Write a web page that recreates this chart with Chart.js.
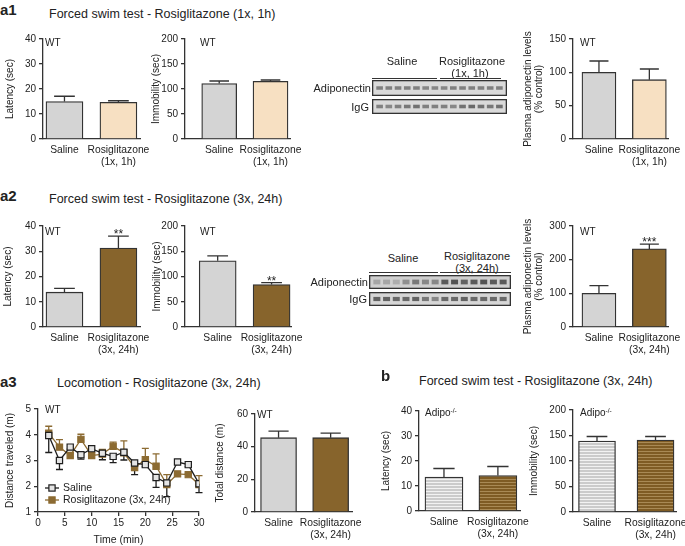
<!DOCTYPE html>
<html><head><meta charset="utf-8">
<script src="https://cdn.jsdelivr.net/npm/chart.js@4.4.0/dist/chart.umd.min.js"></script>
<style>
body{margin:0;background:#fff;}
#root{position:relative;width:685px;height:546px;overflow:hidden;font-family:"Liberation Sans",Arial,sans-serif;color:#222;}
.t{position:absolute;white-space:nowrap;line-height:1;}
canvas{position:absolute;}
.ln{position:absolute;height:0;border-top:1.3px solid #333;}
sup{font-size:0.65em;vertical-align:0.5em;}
</style></head><body><div id="root"></div>
<script>
// ---------------- DATA ----------------
const catsA1 = ['Saline', ['Rosiglitazone', '(1x, 1h)']];
const catsA2 = ['Saline', ['Rosiglitazone', '(3x, 24h)']];

const a1Latency = [15.0, 14.7],   a1LatencyErr = [2.1, 0.6];
const a1Immobility = [111, 115.5], a1ImmobilityErr = [5, 2.5];
const a1Plasma = [100, 89],        a1PlasmaErr = [17, 16];

const a2Latency = [13.8, 31.3],    a2LatencyErr = [1.5, 4.7],   a2LatencyStars = ['', '**'];
const a2Immobility = [131, 84],    a2ImmobilityErr = [10, 4],   a2ImmobilityStars = ['', '**'];
const a2Plasma = [100, 232],       a2PlasmaErr = [23, 14],      a2PlasmaStars = ['', '***'];

const timeMin = [2, 4, 6, 8, 10, 12, 14, 16, 18, 20, 22, 24, 26, 28, 30];
const salineDistance = [3.97, 3.0, 3.52, 3.22, 3.46, 3.28, 3.16, 3.32, 2.9, 2.84, 2.34, 2.13, 2.94, 2.84, 2.1];
const salineDistanceErr = [0.66, 0.35, 0.08, 0.17, 0.08, 0.25, 0.24, 0.3, 0.45, 0.08, 0.38, 0.53, 0.08, 0.08, 0.35];
const rosiDistance = [4.06, 3.52, 3.19, 3.82, 3.19, 3.25, 3.55, 3.3, 2.73, 3.03, 2.78, 2.07, 2.48, 2.45, 2.07];
const rosiDistanceErr = [0.27, 0.29, 0.12, 0.2, 0.05, 0.18, 0.16, 0.46, 0.12, 0.44, 0.48, 0.38, 0.05, 0.05, 0.34];

const a3Total = [45.5, 45.5],      a3TotalErr = [4, 2.8];

const bLatency = [13.6, 14.2],     bLatencyErr = [3.4, 3.6];
const bImmobility = [139, 141],    bImmobilityErr = [9, 7];

// western blot band intensities (0 = faint, 1 = dark), 7 saline + 7 rosiglitazone lanes
const a1AdipoBands = [0.55, 0.55, 0.55, 0.55, 0.55, 0.5, 0.5, 0.5, 0.55, 0.55, 0.55, 0.55, 0.55, 0.55];
const a1IgGBands   = [0.55, 0.5, 0.55, 0.6, 0.65, 0.55, 0.55, 0.55, 0.5, 0.65, 0.7, 0.65, 0.6, 0.65];
const a2AdipoBands = [0.3, 0.3, 0.25, 0.45, 0.6, 0.5, 0.5, 0.8, 0.85, 0.75, 0.8, 0.85, 0.8, 0.8];
const a2IgGBands   = [0.75, 0.75, 0.7, 0.7, 0.75, 0.6, 0.5, 0.7, 0.7, 0.75, 0.7, 0.7, 0.7, 0.7];

// ---------------- STYLE ----------------
const FONT = '"Liberation Sans", Arial, sans-serif';
Chart.defaults.font.family = FONT;
Chart.defaults.color = '#222';
const GRAY = '#d4d4d4', PEACH = '#f7e0c2', BROWN = '#87642c', AX = '#333';

const root = document.getElementById('root');
function T(html, x, y, size, anchor, extra) {
  const d = document.createElement('div'); d.className = 't'; d.innerHTML = html;
  const tx = anchor === 'l' ? '0' : anchor === 'r' ? '-100%' : '-50%';
  d.style.cssText = `left:${x}px;top:${y}px;font-size:${size}px;transform:translate(${tx},-50%);${extra || ''}`;
  root.appendChild(d);
}
function L(x1, x2, y) { const d = document.createElement('div'); d.className = 'ln'; d.style.cssText = `left:${x1}px;width:${x2 - x1}px;top:${y}px;`; root.appendChild(d); }
function mkCanvas(l, t, w, h) {
  const c = document.createElement('canvas'); c.width = w; c.height = h;
  c.style.left = l + 'px'; c.style.top = t + 'px'; c.style.width = w + 'px'; c.style.height = h + 'px';
  root.appendChild(c); return c;
}
function stripes(base, line) {
  const p = document.createElement('canvas'); p.width = 4; p.height = 3;
  const g = p.getContext('2d'); g.fillStyle = base; g.fillRect(0, 0, 4, 3); g.fillStyle = line; g.fillRect(0, 2, 4, 1);
  return g.createPattern(p, 'repeat');
}

const errPlugin = {
  id: 'errbars',
  beforeDatasetsDraw(chart) {
    const ctx = chart.ctx, ys = chart.scales.y;
    chart.data.datasets.forEach((ds, di) => {
      if (!ds.errs) return;
      const meta = chart.getDatasetMeta(di);
      ctx.save(); ctx.strokeStyle = ds.errColor || AX; ctx.lineWidth = 1.3;
      meta.data.forEach((el, i) => {
        const v = ds.data[i].y, s = ds.errSign || 1;
        const y0 = ys.getPixelForValue(v), y1 = ys.getPixelForValue(v + s * ds.errs[i]);
        const hw = ds.capHalf;
        ctx.beginPath(); ctx.moveTo(el.x, y0); ctx.lineTo(el.x, y1);
        ctx.moveTo(el.x - hw, y1); ctx.lineTo(el.x + hw, y1); ctx.stroke();
        if (ds.stars && ds.stars[i]) {
          ctx.fillStyle = '#222'; ctx.font = '12px ' + FONT; ctx.textAlign = 'center'; ctx.textBaseline = 'alphabetic';
          ctx.fillText(ds.stars[i], el.x, y1 + 2);
        }
      });
      ctx.restore();
    });
  }
};

function barChart(o) {
  const padTop = 8, padRight = 45, xH = 34;
  const W = o.right + padRight - o.left, H = o.bottom + xH - (o.top - padTop);
  const cv = mkCanvas(o.left, o.top - padTop, W, H);
  const cats = o.cats;
  return new Chart(cv, {
    type: 'bar',
    data: { datasets: [{
      data: o.vals.map((v, i) => ({ x: i + 1, y: v })),
      backgroundColor: o.fills, borderColor: AX, borderWidth: 1.3, borderSkipped: 'start',
      barThickness: o.barW, errs: o.errs, stars: o.stars, capHalf: o.barW * 0.28
    }] },
    options: {
      responsive: false, animation: false, events: [],
      layout: { padding: { top: padTop, right: padRight, left: 0, bottom: 0 } },
      plugins: { legend: { display: false }, tooltip: { enabled: false } },
      scales: {
        x: {
          type: 'linear', min: o.xMin, max: o.xMax, offset: false, bounds: 'data',
          afterBuildTicks: s => { s.ticks = cats.map((c, i) => ({ value: i + 1 })); },
          afterFit: s => { s.height = xH; },
          grid: { display: false, drawTicks: false, offset: false },
          border: { display: true, color: AX, width: 1.3 },
          ticks: { padding: 5, font: { size: 10.3 }, maxRotation: 0, autoSkip: false, callback: v => cats[Math.round(v) - 1] }
        },
        y: {
          min: 0, max: o.yMax,
          afterFit: s => { s.width = o.axisX - o.left; },
          ticks: { stepSize: o.yStep, padding: 3, font: { size: 10 } },
          grid: { drawOnChartArea: false, drawTicks: true, tickLength: 4, color: AX, lineWidth: 1.3 },
          border: { display: true, color: AX, width: 1.3 },
          title: { display: true, text: o.yTitle, padding: { top: 0, bottom: 0 }, font: { size: 10, lineHeight: 1.15 } }
        }
      }
    },
    plugins: [errPlugin]
  });
}

const blotPlugin = {
  id: 'blotbox',
  beforeDraw(c) { const ctx = c.ctx; ctx.save(); ctx.fillStyle = c.options.plugins.blotbox.bg; ctx.fillRect(0, 0, c.width, c.height); ctx.restore(); },
  afterDraw(c) { const ctx = c.ctx; ctx.save(); ctx.strokeStyle = AX; ctx.lineWidth = 1.3; ctx.strokeRect(0.65, 0.65, c.width - 1.3, c.height - 1.3); ctx.restore(); }
};
function shade(v) { const g = Math.round(210 - 150 * v); return `rgb(${g},${g},${g})`; }
function blot(l, t, w, h, bands, bg, bandH) {
  const cv = mkCanvas(l, t, w, h);
  new Chart(cv, {
    type: 'bar',
    data: { labels: bands.map((_, i) => String(i + 1)),
      datasets: [{ data: bands.map(() => [0.5 - bandH / 2, 0.5 + bandH / 2]), backgroundColor: bands.map(shade),
        barPercentage: 0.72, categoryPercentage: 1, borderWidth: 0 }] },
    options: {
      responsive: false, animation: false, events: [],
      layout: { padding: { left: 3, right: 3, top: 0, bottom: 0 } },
      plugins: { legend: { display: false }, tooltip: { enabled: false }, blotbox: { bg } },
      scales: { x: { display: false }, y: { display: false, min: 0, max: 1 } }
    },
    plugins: [blotPlugin]
  });
}

// ---------------- PANEL a1 ----------------
T('a1', 0, 9, 15, 'l', 'font-weight:bold;');
T('Forced swim test - Rosiglitazone (1x, 1h)', 49, 14, 12.5, 'l');
barChart({ left: 4, axisX: 43, top: 38, bottom: 139, right: 140, xMin: 0.602, xMax: 2.40, barW: 37,
  yMax: 40, yStep: 10, yTitle: 'Latency (sec)', cats: catsA1, vals: a1Latency, errs: a1LatencyErr, fills: [GRAY, PEACH] });
barChart({ left: 150, axisX: 185, top: 38, bottom: 139, right: 290, xMin: 0.333, xMax: 2.38, barW: 35,
  yMax: 200, yStep: 50, yTitle: 'Immobility (sec)', cats: catsA1, vals: a1Immobility, errs: a1ImmobilityErr, fills: [GRAY, PEACH] });
barChart({ left: 522, axisX: 573, top: 38, bottom: 139, right: 668, xMin: 0.485, xMax: 2.37, barW: 34,
  yMax: 150, yStep: 50, yTitle: ['Plasma adiponectin levels', '(% control)'], cats: catsA1, vals: a1Plasma, errs: a1PlasmaErr, fills: [GRAY, PEACH] });
T('WT', 45, 43, 10, 'l'); T('WT', 200, 43, 10, 'l'); T('WT', 580, 43, 10, 'l');
T('Saline', 402, 61, 11); T('Rosiglitazone', 472, 61, 11); T('(1x, 1h)', 470, 73, 11);
L(372, 437, 78); L(440, 501, 78);
blot(372, 80, 135, 16, a1AdipoBands, '#dadada', 0.22);
blot(372, 99, 135, 15, a1IgGBands, '#dadada', 0.24);
T('Adiponectin', 371, 88, 11, 'r'); T('IgG', 369, 107, 11, 'r');

// ---------------- PANEL a2 ----------------
T('a2', 0, 195, 15, 'l', 'font-weight:bold;');
T('Forced swim test - Rosiglitazone (3x, 24h)', 49, 198.5, 12.5, 'l');
barChart({ left: 2, axisX: 43, top: 225, bottom: 327, right: 140, xMin: 0.602, xMax: 2.40, barW: 37,
  yMax: 40, yStep: 10, yTitle: 'Latency (sec)', cats: catsA2, vals: a2Latency, errs: a2LatencyErr, stars: a2LatencyStars, fills: [GRAY, BROWN] });
barChart({ left: 151, axisX: 185, top: 225, bottom: 327, right: 291, xMin: 0.394, xMax: 2.36, barW: 37,
  yMax: 200, yStep: 50, yTitle: 'Immobility (sec)', cats: catsA2, vals: a2Immobility, errs: a2ImmobilityErr, stars: a2ImmobilityStars, fills: [GRAY, BROWN] });
barChart({ left: 522, axisX: 573, top: 225, bottom: 327, right: 668, xMin: 0.485, xMax: 2.37, barW: 34,
  yMax: 300, yStep: 100, yTitle: ['Plasma adiponectin levels', '(% control)'], cats: catsA2, vals: a2Plasma, errs: a2PlasmaErr, stars: a2PlasmaStars, fills: [GRAY, BROWN] });
T('WT', 45, 232, 10, 'l'); T('WT', 200, 232, 10, 'l'); T('WT', 580, 232, 10, 'l');
T('Saline', 403, 258, 11); T('Rosiglitazone', 477, 256, 11); T('(3x, 24h)', 477, 268, 11);
L(369, 438, 272); L(440, 511, 272);
blot(369, 275, 142, 14, a2AdipoBands, '#cfcfcf', 0.34);
blot(369, 292, 142, 14, a2IgGBands, '#d6d6d6', 0.3);
T('Adiponectin', 368, 282, 11, 'r'); T('IgG', 367, 299, 11, 'r');

// ---------------- PANEL a3 ----------------
T('a3', 0, 381, 15, 'l', 'font-weight:bold;');
T('Locomotion - Rosiglitazone (3x, 24h)', 57, 383, 12.5, 'l');
(function () {
  const left = 4, axisX = 38, top = 408, bottom = 512, right = 199, padTop = 8, padRight = 25, xH = 34;
  const cv = mkCanvas(left, top - padTop, right + padRight - left, bottom + xH - (top - padTop));
  const legendPlugin = {
    id: 'inlegend',
    afterDraw(c) {
      const ctx = c.ctx, a = c.chartArea;
      c.data.datasets.forEach((ds, i) => {
        const y = a.bottom - 24 + i * 12, x0 = a.left + 7;
        ctx.save();
        ctx.strokeStyle = ds.borderColor; ctx.lineWidth = 1.3;
        ctx.beginPath(); ctx.moveTo(x0, y); ctx.lineTo(x0 + 14, y); ctx.stroke();
        const s = ds.pointRadius * Math.SQRT1_2;
        ctx.fillStyle = ds.pointBackgroundColor; ctx.fillRect(x0 + 7 - s, y - s, 2 * s, 2 * s);
        ctx.strokeStyle = ds.pointBorderColor; ctx.lineWidth = ds.pointBorderWidth; ctx.strokeRect(x0 + 7 - s, y - s, 2 * s, 2 * s);
        ctx.fillStyle = '#222'; ctx.font = '10.5px ' + FONT; ctx.textAlign = 'left'; ctx.textBaseline = 'middle';
        ctx.fillText(ds.label, a.left + 25, y + 0.5);
        ctx.restore();
      });
    }
  };
  new Chart(cv, {
    type: 'line',
    data: { datasets: [
      { label: 'Saline', data: timeMin.map((t, i) => ({ x: t, y: salineDistance[i] })),
        borderColor: '#1e1e1e', borderWidth: 1.3, pointStyle: 'rect', pointRadius: 4.4,
        pointBackgroundColor: '#e4e4e4', pointBorderColor: '#1e1e1e', pointBorderWidth: 1.2,
        errs: salineDistanceErr, errSign: -1, errColor: '#1e1e1e', capHalf: 3.5 },
      { label: 'Rosiglitazone (3x, 24h)', data: timeMin.map((t, i) => ({ x: t, y: rosiDistance[i] })),
        borderColor: '#8c6b32', borderWidth: 1.3, pointStyle: 'rect', pointRadius: 4.4,
        pointBackgroundColor: '#8c6b32', pointBorderColor: '#8c6b32', pointBorderWidth: 1.2,
        errs: rosiDistanceErr, errSign: 1, errColor: '#8c6b32', capHalf: 3.5 }
    ] },
    options: {
      responsive: false, animation: false, events: [],
      layout: { padding: { top: padTop, right: padRight, left: 0, bottom: 0 } },
      plugins: { legend: { display: false }, tooltip: { enabled: false } },
      scales: {
        x: { type: 'linear', min: 0, max: 30,
          afterFit: s => { s.height = xH; },
          ticks: { stepSize: 5, padding: 1, font: { size: 10 } },
          grid: { drawOnChartArea: false, drawTicks: true, tickLength: 4, color: AX, lineWidth: 1.3 },
          border: { display: true, color: AX, width: 1.3 },
          title: { display: true, text: 'Time (min)', padding: { top: 0, bottom: 0 }, font: { size: 10.5 } } },
        y: { min: 1, max: 5,
          afterFit: s => { s.width = axisX - left; },
          ticks: { stepSize: 1, padding: 3, font: { size: 10 } },
          grid: { drawOnChartArea: false, drawTicks: true, tickLength: 4, color: AX, lineWidth: 1.3 },
          border: { display: true, color: AX, width: 1.3 },
          title: { display: true, text: 'Distance traveled (m)', padding: { top: 0, bottom: 0 }, font: { size: 10 } } }
      }
    },
    plugins: [errPlugin, legendPlugin]
  });
})();
T('WT', 45, 410, 10, 'l');
barChart({ left: 214, axisX: 255, top: 413, bottom: 512, right: 352, xMin: 0.548, xMax: 2.41, barW: 36,
  yMax: 60, yStep: 20, yTitle: 'Total distance (m)', cats: catsA2, vals: a3Total, errs: a3TotalErr, fills: [GRAY, BROWN] });
T('WT', 257, 415, 10, 'l');

// ---------------- PANEL b ----------------
T('b', 381, 375, 15, 'l', 'font-weight:bold;');
T('Forced swim test - Rosiglitazone (3x, 24h)', 419, 380.5, 12.5, 'l');
const stripeGray = stripes('#cbcbcb', '#f2f2f2');
const stripeBrown = stripes('#7f5c24', '#a98a55');
barChart({ left: 380, axisX: 419, top: 409.5, bottom: 511, right: 520, xMin: 0.537, xMax: 2.41, barW: 38,
  yMax: 40, yStep: 10, yTitle: 'Latency (sec)', cats: catsA2, vals: bLatency, errs: bLatencyErr, fills: [stripeGray, stripeBrown] });
barChart({ left: 528, axisX: 573, top: 408.5, bottom: 512, right: 676, xMin: 0.59, xMax: 2.35, barW: 37,
  yMax: 200, yStep: 50, yTitle: 'Immobility (sec)', cats: catsA2, vals: bImmobility, errs: bImmobilityErr, fills: [stripeGray, stripeBrown] });
T('Adipo<sup>-/-</sup>', 425, 413, 10, 'l');
T('Adipo<sup>-/-</sup>', 580, 413, 10, 'l');
</script>
</body></html>
